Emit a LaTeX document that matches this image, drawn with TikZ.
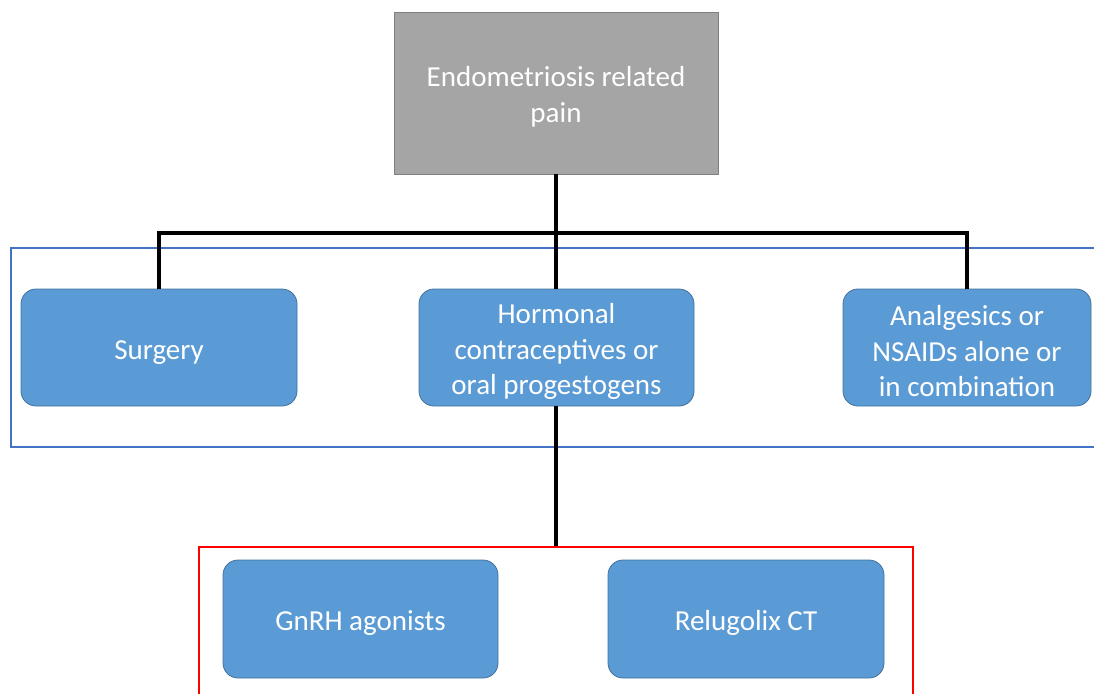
\documentclass[tikz,border=0pt]{standalone}
\usepackage{fontspec}
\setmainfont{Carlito}
\definecolor{boxblue}{HTML}{5B9BD5}
\definecolor{boxedge}{HTML}{41719C}
\definecolor{framblue}{HTML}{4472C4}
\definecolor{topgray}{HTML}{A5A5A5}
\definecolor{topedge}{HTML}{7F7F7F}
\newcommand{\tstrut}{\rule{0pt}{28pt}}
\tikzset{
  bluebox/.style={draw=boxedge, line width=0.8pt, fill=boxblue, rounded corners=15pt,
    text=white, align=center, inner sep=0pt, minimum height=117pt,
    font=\fontsize{29}{35.5}\selectfont},
  graybox/.style={draw=topedge, line width=0.8pt, fill=topgray, text=white, align=center,
    inner sep=0pt, font=\fontsize{29}{35.5}\selectfont},
  conn/.style={draw=black, line width=3.6pt},
  bluefr/.style={draw=framblue, line width=2pt, inner sep=0pt},
  redfr/.style={draw=red, line width=2pt, inner sep=0pt}
}
\begin{document}
\begin{tikzpicture}[x=1pt,y=-1pt]
\useasboundingbox (0,0) rectangle (1094,693);
\clip (0,0) rectangle (1094,693);
% frames
\node[bluefr, minimum width=1110pt, minimum height=199pt] (bluef) at (566,347.5) {};
\node[redfr, minimum width=714pt, minimum height=200pt] (redf) at (556,647) {};
% top node
\node[graybox, minimum width=324pt, minimum height=162pt] (top) at (556,93) {\tstrut Endometriosis related\\pain};
% middle row
\node[bluebox, minimum width=276pt] (surg) at (159,347.5) {\tstrut Surgery};
\node[bluebox, minimum width=275pt] (horm) at (556.5,347.5) {\tstrut Hormonal\\contraceptives or\\oral progestogens};
\node[bluebox, minimum width=248pt] (anal) at (967,347.5) {\tstrut Analgesics or\\NSAIDs alone or\\in combination};
% bottom row
\node[bluebox, minimum width=275pt, minimum height=118pt] (gnrh) at (360.5,619) {\tstrut GnRH agonists};
\node[bluebox, minimum width=276pt, minimum height=118pt] (relu) at (746,619) {\tstrut Relugolix CT};
% connectors
\coordinate (bar) at (556,233);
\draw[conn] (top.south) -- (bar);
\draw[conn, line join=miter] (surg.north) |- (bar) -| (anal.north);
\draw[conn] (bar) -- (bar |- horm.north);
\draw[conn] (horm.south -| bar) -- (redf.north);
\end{tikzpicture}
\end{document}
